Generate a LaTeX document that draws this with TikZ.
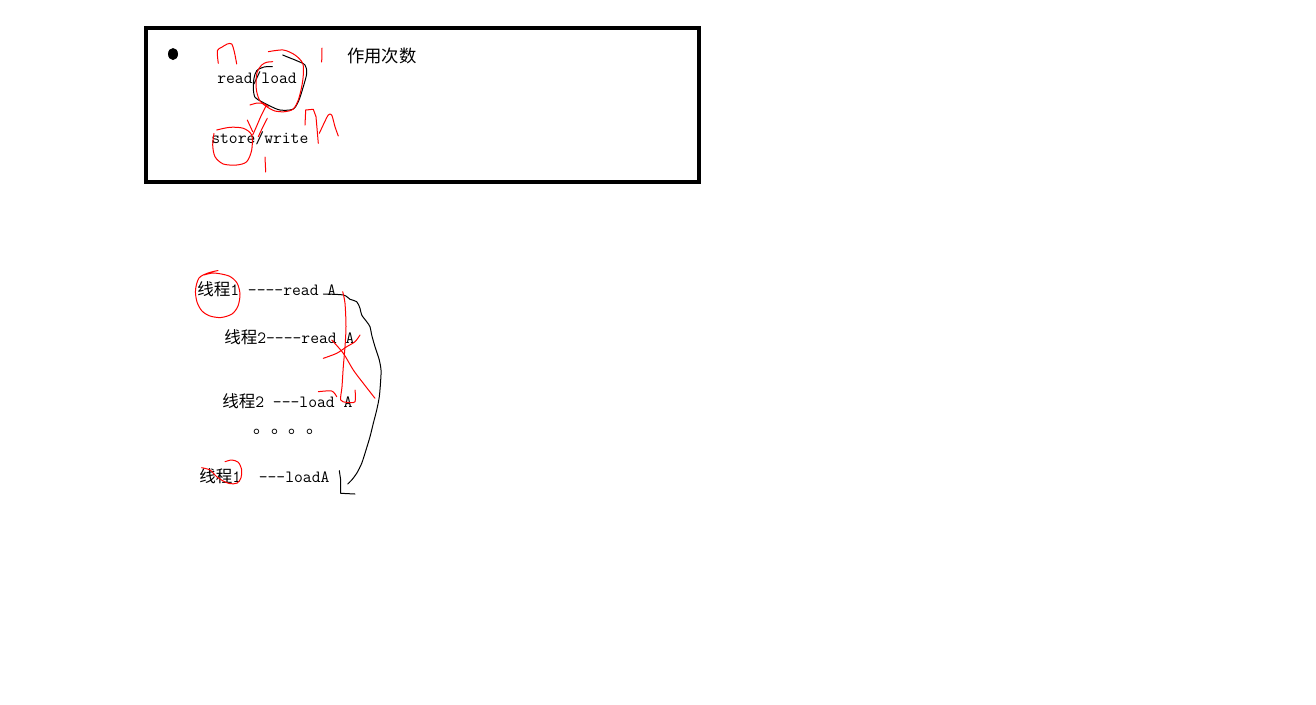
\documentclass[tikz,border=0pt]{standalone}
\usepackage{fontspec}
\setmonofont{Latin Modern Mono}
\newfontfamily\cjk{Noto Sans CJK SC}
\definecolor{PenRed}{HTML}{FF0000}
\newcommand{\xcname}{{\fontsize{12.4}{14}\cjk 线程}}

\begin{document}
\begin{tikzpicture}[x=0.75pt,y=-0.75pt,
    txt/.style={anchor=west,inner sep=0pt,font=\fontsize{12.86}{14}\ttfamily},
    pen/.style={line width=0.75pt,line join=round,line cap=round},
    redpen/.style={pen,color=PenRed}]
  \fill[white] (0,0) rectangle (1316,704);
  \useasboundingbox (0,0) rectangle (1316,704);
  % framed note
  \draw[line width=3pt] (146,28) rectangle (699,182);
  \fill (173,54) ellipse [x radius=3.75pt,y radius=4.5pt];
  \node[txt,font=\fontsize{13}{15}\cjk] (count) at (347,56) {作用次数};
  \node[txt] (readload) at (217,78) {read/load};
  \node[txt] (storewrite) at (211,138) {store/write};
  % thread order
  \node[txt] (t1read) at (197,289) {\xcname1~----read~A};
  \node[txt] (t2read) at (224,337) {\xcname2----read~A};
  \node[txt] (t2load) at (222,401) {\xcname2~---load~A};
  \node[txt,font=\fontsize{13.3}{15}\cjk] (dots) at (253,432) {。。。。};
  \node[txt] (t1load) at (199,476) {\xcname1~~---loadA};
  % pen marks in the note
  \draw[redpen] plot[smooth] coordinates {(218.3,63.3) (217.3,50.7) (221.7,47.3) (227.3,44) (231.7,44) (234.3,51.7) (236.7,64)};
  \draw[redpen] (322,48) -- (321.7,62);
  \draw[pen] plot[smooth] coordinates {(272.3,66.7) (264,67) (256.7,70.7) (254,78.3) (253.3,88.3) (255,97.3) (261.7,101.7) (270,106) (280,110) (292.7,109.3) (298.3,101.7) (303.3,86.7) (306.7,73.3) (305,65) (296.7,60.7) (288.3,57.3) (282.7,55)};
  \draw[redpen] plot[smooth] coordinates {(268.3,51.7) (283.3,50) (295,55) (302.7,63.3) (303.3,75) (301.7,86.7) (298.3,100) (293.3,109) (285,111.7) (275,111) (266.7,106.7) (260,101) (256.7,91.7) (256,81.7) (257.3,71.7) (261.7,65) (266.7,62.3) (272.7,61.7)};
  \draw[redpen] plot[smooth] coordinates {(250,105) (257.3,103) (264,103.7) (268.3,106.7)};
  \draw[redpen] plot[smooth] coordinates {(266,106) (260.7,116.7) (256.7,126) (252.7,135)};
  \draw[redpen] plot[smooth] coordinates {(267.3,118.3) (262.7,127.3) (258.3,136.7)};
  \draw[redpen] (247.3,120) -- (252.7,131.7);
  \draw[redpen] plot[smooth] coordinates {(216.7,130) (230,127.3) (243.3,128.3) (251.7,135) (251.7,150) (246.7,161.7) (236.7,165) (223.3,164) (215,156.7) (212.7,145) (214,133.3)};
  \draw[redpen] (265,157) -- (265.7,172);
  \draw[redpen] plot[sharp plot] coordinates {(305,125) (305.7,110) (313.3,109.3) (316,116.7) (318.3,143.3)};
  \draw[redpen] plot[smooth] coordinates {(319.3,133.3) (324,123.3) (328.3,115) (331.7,115) (335,126.7) (338.3,136)};
  % pen marks on the thread order
  \draw[redpen] plot[smooth] coordinates {(218,270.5) (208,273) (199,278) (195.5,290) (197,302) (202,311) (210,316) (221,317.5) (232,314) (238,306) (240,294) (237,283) (229,276) (214,273) (204,275)};
  \draw[pen] plot[smooth] coordinates {(323.3,294) (343.3,295) (350,299.3) (356.7,301.7) (360,308.3) (361.7,315) (366.7,321.7) (370,326.7) (371.7,335) (375,346.7) (379.3,360) (381,370) (380.7,380) (379.3,396.7) (376.7,410) (373.3,423.3) (370,436.7) (366,450) (361.7,463.3) (356.7,473.3) (351.7,480) (347.7,484)};
  \draw[pen] (339.3,470.7) -- (340.7,480) -- (340.7,493.3) -- (355,494);
  \draw[redpen] plot[smooth] coordinates {(342.7,291.7) (345,303.3) (346,326.7) (345,346.7) (343.3,366.7) (342,386.7) (340.7,400) (346.7,402.3) (355,401.7) (355,390)};
  \draw[redpen] plot[smooth] coordinates {(318.3,391.7) (331.7,391) (336.7,396.7)};
  \draw[redpen] plot[smooth] coordinates {(323.3,358.3) (336.7,353.3) (346.7,346.7) (355,341.7) (360,335)};
  \draw[redpen] plot[smooth] coordinates {(331.7,340) (343.3,353.3) (353.3,370) (363.3,383.3) (375,398.3)};
  \draw[redpen] plot[smooth] coordinates {(201.7,467.7) (210,470) (216.7,476.7) (223.3,481) (230,483.7) (237.3,483) (241,477.7) (241.7,470) (238.3,462.3) (231.7,460) (225,461.7)};
\end{tikzpicture}
\end{document}
